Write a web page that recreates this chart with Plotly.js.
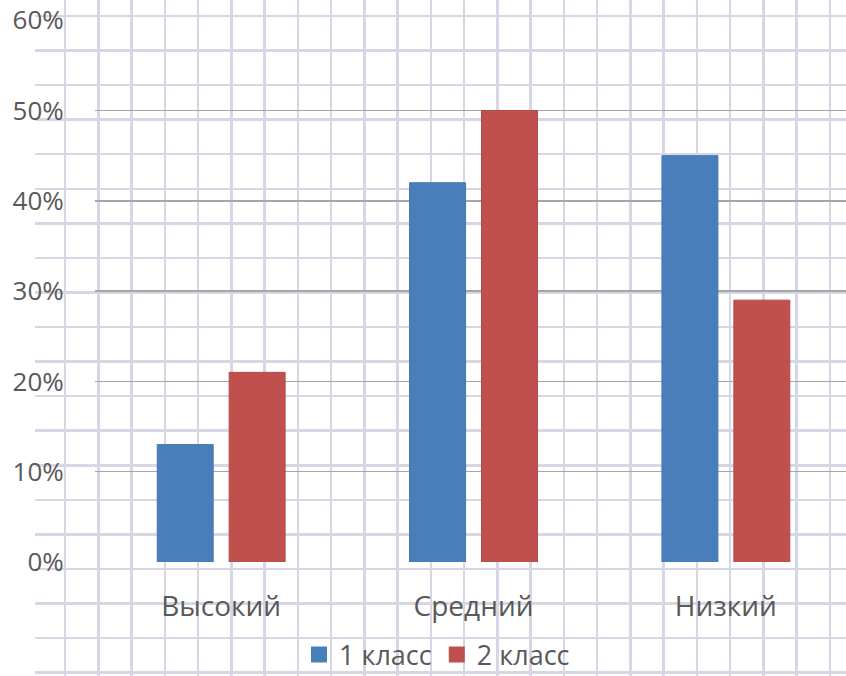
<!DOCTYPE html>
<html>
<head>
<meta charset="utf-8">
<script src="https://cdn.plot.ly/plotly-3.0.1.min.js"></script>
<style>html,body{margin:0;padding:0;background:#fff}#chart{width:846px;height:676px}</style>
</head>
<body>
<div id="chart"></div>
<script>
const categories = ["Высокий", "Средний", "Низкий"];
const series1Name = "1 класс";
const series2Name = "2 класс";
const series1 = [0.13, 0.42, 0.45];
const series2 = [0.21, 0.50, 0.29];
const yTicks = [0, 0.1, 0.2, 0.3, 0.4, 0.5, 0.6];

const W = 846, H = 676;
const textColor = "#595959";
const fam = "Open Sans, Noto Sans, sans-serif";
const blue = "#4a7ebb", red = "#c0504d";

const traces = [
  // invisible anchor so the graph-paper background subplot is drawn
  {type: "scatter", x: [35], y: [0], xaxis: "x", yaxis: "y", mode: "markers",
   marker: {opacity: 0}, showlegend: false, hoverinfo: "skip"},
  {type: "bar", x: categories, y: series1, name: series1Name, xaxis: "x2", yaxis: "y2",
   marker: {color: blue, line: {color: "#4576b0", width: 1}}, showlegend: false},
  {type: "bar", x: categories, y: series2, name: series2Name, xaxis: "x2", yaxis: "y2",
   marker: {color: red, line: {color: "#b34a47", width: 1}}, showlegend: false},
  // legend entries (square keys)
  {type: "scatter", x: [categories[0]], y: [null], name: series1Name, xaxis: "x2", yaxis: "y2",
   mode: "markers", marker: {symbol: "square", size: 18, color: blue}, hoverinfo: "skip"},
  {type: "scatter", x: [categories[0]], y: [null], name: series2Name, xaxis: "x2", yaxis: "y2",
   mode: "markers", marker: {symbol: "square", size: 18, color: red}, hoverinfo: "skip"}
];

const layout = {
  width: W, height: H,
  margin: {l: 0, r: 0, t: 0, b: 0, autoexpand: false},
  paper_bgcolor: "#ffffff",
  plot_bgcolor: "rgba(0,0,0,0)",
  font: {family: fam, size: 26, color: textColor},
  showlegend: true,
  barmode: "group",
  bargap: 0.43,
  bargroupgap: 0.222,
  xaxis: {
    domain: [35 / W, 1], range: [35, W], anchor: "y",
    tick0: 65, dtick: 33.26, showgrid: true, gridcolor: "#d6d6e4", gridwidth: 2.5,
    showticklabels: false, zeroline: false, showline: false, ticks: "", fixedrange: true
  },
  yaxis: {
    domain: [0, 1], range: [H, 0], anchor: "x",
    tick0: 16, dtick: 34.56, showgrid: true, gridcolor: "#d6d6e4", gridwidth: 2.5,
    showticklabels: false, zeroline: false, showline: false, ticks: "", fixedrange: true
  },
  xaxis2: {
    domain: [95 / W, 1], anchor: "y2",
    type: "category", range: [-0.5, 2.476],
    showgrid: false, zeroline: false, showline: false,
    ticks: "outside", ticklen: 19, tickcolor: "rgba(0,0,0,0)",
    tickfont: {family: fam, size: 28, color: textColor}
  },
  yaxis2: {
    domain: [114 / H, 655.8 / H], anchor: "x2",
    range: [0, 0.6], tickvals: yTicks, tickformat: ".0%",
    showgrid: true, gridcolor: "#a6a6a6", gridwidth: 1.5,
    zeroline: false, showline: false,
    ticks: "outside", ticklen: 25, tickcolor: "rgba(0,0,0,0)",
    tickfont: {family: fam, size: 26, color: textColor}
  },
  legend: {
    orientation: "h", x: 437 / W, xanchor: "center", y: 21 / H, yanchor: "middle",
    bgcolor: "rgba(0,0,0,0)", font: {family: fam, size: 27, color: textColor},
    traceorder: "normal", itemsizing: "trace"
  }
};

Plotly.newPlot("chart", traces, layout, {staticPlot: true, displayModeBar: false});
</script>
</body>
</html>
